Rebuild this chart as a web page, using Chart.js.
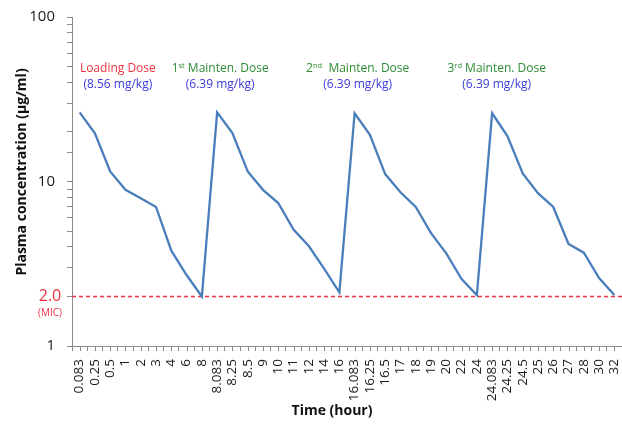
<!DOCTYPE html>
<html>
<head>
<meta charset="utf-8">
<script src="https://cdn.jsdelivr.net/npm/chart.js@4"></script>
<style>
  html, body { margin: 0; padding: 0; background: #fff; }
  #wrap { width: 622px; height: 424px; }
</style>
</head>
<body>
<div id="wrap"><canvas id="chart" width="622" height="424"></canvas></div>
<script>
// ─── Data ─────────────────────────────────────────────────────────────────────
const TIME_LABELS = [
    "0.083", "0.25", "0.5", "1", "2", "3", "4", "6", "8",
    "8.083", "8.25", "8.5", "9", "10", "11", "12", "14", "16",
    "16.083", "16.25", "16.5", "17", "18", "19", "20", "22", "24",
    "24.083", "24.25", "24.5", "25", "26", "27", "28", "30", "32",
];
const CONCENTRATION = [
    26.3, 19.6, 11.5, 8.9, 7.9, 7.0, 3.8, 2.7, 2.0,
    26.3, 19.7, 11.5, 8.9, 7.4, 5.1, 4.05, 2.95, 2.12,
    26.0, 19.2, 11.1, 8.6, 7.0, 4.85, 3.66, 2.55, 2.04,
    26.0, 18.9, 11.2, 8.5, 7.0, 4.17, 3.69, 2.59, 2.04,
];
const MIC = 2;
const Y_LABELS = [1, 10, 100];

// dose annotations (anchored on category index)
const DOSE_ORDINAL = ["", "1", "2", "3"];
const DOSE_SUFFIX = ["", "st", "nd", "rd"];
const DOSE_NAME = ["Loading Dose", " Mainten. Dose", "  Mainten. Dose", " Mainten. Dose"];
const DOSE_AMOUNT = ["(8.56 mg/kg)", "(6.39 mg/kg)", "(6.39 mg/kg)", "(6.39 mg/kg)"];
const DOSE_ANCHOR = [2.5, 9.2, 18.2, 27.3];

// ─── Style ────────────────────────────────────────────────────────────────────
const FONT = "'Open Sans', 'Liberation Sans', sans-serif";
const AXIS_GREY = "#8c8c8c";
const LINE_BLUE = "#4a7ebb";
const MIC_RED = "#ee3340";
const AMOUNT_BLUE = "#3b3bdc";
const DOSE_GREEN = "#2e8b35";

const overlay = {
    id: "overlay",
    beforeDatasetsDraw(chart) {
        const { ctx, chartArea: a, scales: { y } } = chart;
        const yy = y.getPixelForValue(MIC);
        ctx.save();
        ctx.strokeStyle = MIC_RED;
        ctx.lineWidth = 1.3;
        ctx.setLineDash([4, 3]);
        ctx.beginPath();
        ctx.moveTo(a.left, yy);
        ctx.lineTo(a.right, yy);
        ctx.stroke();
        ctx.restore();
    },
    afterDraw(chart) {
        const { ctx, chartArea: a, scales: { x, y } } = chart;
        ctx.save();

        // extra ticks at category centres
        ctx.strokeStyle = AXIS_GREY;
        ctx.lineWidth = 1;
        ctx.beginPath();
        TIME_LABELS.forEach((_, i) => {
            const px = Math.round(x.getPixelForValue(i)) + 0.5;
            ctx.moveTo(px, a.bottom);
            ctx.lineTo(px, a.bottom + 5);
        });
        ctx.stroke();

        // MIC label
        const yy = y.getPixelForValue(MIC);
        ctx.fillStyle = MIC_RED;
        ctx.textAlign = "center";
        ctx.textBaseline = "middle";
        ctx.font = "16px " + FONT;
        ctx.fillText("2.0", 50, yy);
        ctx.font = "10px " + FONT;
        ctx.fillText("(MIC)", 50, yy + 17);

        // dose labels
        ctx.textAlign = "left";
        DOSE_ANCHOR.forEach((idx, k) => {
            const cx = x.getPixelForValue(idx);
            ctx.font = "12px " + FONT;
            const w1 = ctx.measureText(DOSE_ORDINAL[k]).width;
            const w3 = ctx.measureText(DOSE_NAME[k]).width;
            ctx.font = "7.5px " + FONT;
            const w2 = ctx.measureText(DOSE_SUFFIX[k]).width;
            let sx = cx - (w1 + w2 + w3) / 2;
            ctx.fillStyle = k === 0 ? MIC_RED : DOSE_GREEN;
            ctx.font = "12px " + FONT;
            ctx.fillText(DOSE_ORDINAL[k], sx, 69);
            ctx.font = "7.5px " + FONT;
            ctx.fillText(DOSE_SUFFIX[k], sx + w1, 66);
            ctx.font = "12px " + FONT;
            ctx.fillText(DOSE_NAME[k], sx + w1 + w2, 69);

            ctx.fillStyle = AMOUNT_BLUE;
            ctx.textAlign = "center";
            ctx.fillText(DOSE_AMOUNT[k], cx, 85);
            ctx.textAlign = "left";
        });

        // axis titles
        ctx.fillStyle = "#111";
        ctx.textAlign = "center";
        ctx.font = "bold 14px " + FONT;
        ctx.fillText("Time (hour)", 332, 411);
        ctx.translate(22, 172);
        ctx.rotate(-Math.PI / 2);
        ctx.fillText("Plasma concentration (\u00b5g/ml)", 0, 0);
        ctx.restore();
    },
};

// ─── Chart ────────────────────────────────────────────────────────────────────
new Chart(document.getElementById("chart"), {
    type: "line",
    data: {
        labels: TIME_LABELS,
        datasets: [{
            data: CONCENTRATION,
            borderColor: LINE_BLUE,
            borderWidth: 2.3,
            pointRadius: 0,
            tension: 0,
            fill: false,
        }],
    },
    options: {
        responsive: false,
        animation: false,
        devicePixelRatio: 1,
        layout: { padding: { top: 17, left: 0, right: 0, bottom: 0 } },
        plugins: { legend: { display: false }, tooltip: { enabled: false } },
        scales: {
            x: {
                type: "category",
                offset: true,
                grid: { offset: true, drawOnChartArea: false, tickLength: 5, color: AXIS_GREY },
                border: { color: AXIS_GREY },
                ticks: {
                    autoSkip: false, minRotation: 90, maxRotation: 90, padding: 8,
                    color: "#1a1a1a", font: { family: FONT, size: 13.5 },
                },
                afterFit: (s) => { s.height = 78; s.paddingLeft = 0; s.paddingRight = 0; },
            },
            y: {
                type: "logarithmic",
                min: 1,
                max: 100,
                grid: { drawOnChartArea: false, tickLength: 5, color: AXIS_GREY },
                border: { color: AXIS_GREY },
                ticks: {
                    autoSkip: false, padding: 12, color: "#1a1a1a",
                    font: { family: FONT, size: 15 },
                    callback: (v) => (Y_LABELS.includes(v) ? String(v) : ""),
                },
                afterFit: (s) => { s.width = 72; s.paddingTop = 0; s.paddingBottom = 0; },
            },
        },
    },
    plugins: [overlay],
});
</script>
</body>
</html>
